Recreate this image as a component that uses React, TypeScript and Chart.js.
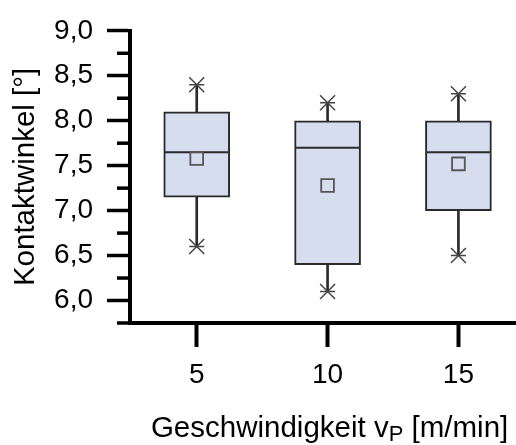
import React, { useEffect, useRef } from 'react';
import { Chart, registerables } from 'chart.js';

Chart.register(...registerables);

// ---- data ----
const speeds = [5, 10, 15];
const whiskerMin = [6.6, 6.1, 6.5];
const q1 = [7.15, 6.4, 7.0];
const median = [7.65, 7.7, 7.65];
const q3 = [8.1, 8.0, 8.0];
const whiskerMax = [8.4, 8.2, 8.3];
const mean = [7.58, 7.28, 7.52];

const xTickValues = [5, 10, 15];
const yTickValues = [5.75, 6.0, 6.25, 6.5, 6.75, 7.0, 7.25, 7.5, 7.75, 8.0, 8.25, 8.5, 8.75, 9.0];

const yTitle = 'Kontaktwinkel [°]';
const xTitleMain = 'Geschwindigkeit v';
const xTitleSub = 'P';
const xTitleTail = ' [m/min]';

const FONT = '"Liberation Sans", Arial, sans-serif';
const BOX_FILL = 'rgb(214,221,238)';
const LINE = '#2a2a2a';

const isMajor = (v: number) => Math.abs(v * 2 - Math.round(v * 2)) < 1e-6;

const minorTickPlugin = {
  id: 'minorTicks',
  afterDraw(chart: any) {
    const ys = chart.scales.y;
    const ctx = chart.ctx;
    const x = chart.chartArea.left;
    ctx.save();
    ctx.strokeStyle = '#000';
    ctx.lineWidth = 3.5;
    yTickValues.forEach((v) => {
      if (isMajor(v)) return;
      const y = ys.getPixelForValue(v);
      ctx.beginPath();
      ctx.moveTo(x - 13, y);
      ctx.lineTo(x, y);
      ctx.stroke();
    });
    ctx.restore();
  },
};

const xTitlePlugin = {
  id: 'xTitleSub',
  afterDraw(chart: any) {
    const xs = chart.scales.x;
    const ctx = chart.ctx;
    ctx.save();
    const big = `29.5px ${FONT}`;
    const small = `22px ${FONT}`;
    ctx.font = big;
    const w1 = ctx.measureText(xTitleMain).width;
    const w3 = ctx.measureText(xTitleTail).width;
    ctx.font = small;
    const w2 = ctx.measureText(xTitleSub).width;
    const total = w1 + w2 + w3;
    const cx = xs.getPixelForValue(10) + 2;
    const baseY = xs.bottom - 8;
    let x = cx - total / 2;
    ctx.fillStyle = '#000';
    ctx.textBaseline = 'alphabetic';
    ctx.textAlign = 'left';
    ctx.font = big;
    ctx.fillText(xTitleMain, x, baseY);
    x += w1;
    ctx.font = small;
    ctx.fillText(xTitleSub, x, baseY + 4);
    x += w2;
    ctx.font = big;
    ctx.fillText(xTitleTail, x, baseY);
    ctx.restore();
  },
};

export default function App() {
  const ref = useRef<HTMLCanvasElement | null>(null);

  useEffect(() => {
    if (!ref.current) return;
    const chart = new Chart(ref.current, {
      type: 'bar',
      data: {
        datasets: [
          {
            type: 'bar',
            label: 'whisker',
            data: speeds.map((s, i) => ({ x: s, y: [whiskerMin[i], whiskerMax[i]] })) as any,
            backgroundColor: LINE,
            borderWidth: 0,
            barThickness: 2,
            grouped: false,
            order: 5,
          } as any,
          {
            type: 'bar',
            label: 'box',
            data: speeds.map((s, i) => ({ x: s, y: [q1[i], q3[i]] })) as any,
            backgroundColor: BOX_FILL,
            borderColor: LINE,
            borderWidth: 2,
            borderSkipped: false,
            barThickness: 66,
            grouped: false,
            order: 4,
          } as any,
          {
            type: 'scatter',
            label: 'median',
            data: speeds.map((s, i) => ({ x: s, y: median[i] })),
            pointStyle: 'line',
            pointRadius: 32,
            borderColor: LINE,
            borderWidth: 2,
            order: 3,
          } as any,
          {
            type: 'scatter',
            label: 'mean',
            data: speeds.map((s, i) => ({ x: s, y: mean[i] })),
            pointStyle: 'rect',
            pointRadius: 9,
            backgroundColor: 'rgba(0,0,0,0)',
            borderColor: '#555',
            borderWidth: 1.8,
            order: 2,
          } as any,
          {
            type: 'scatter',
            label: 'extremeX',
            data: speeds.flatMap((s, i) => [
              { x: s, y: whiskerMin[i] },
              { x: s, y: whiskerMax[i] },
            ]),
            pointStyle: 'crossRot',
            pointRadius: 10.6,
            borderColor: '#444',
            borderWidth: 1.5,
            order: 1,
          } as any,
          {
            type: 'scatter',
            label: 'extremeLine',
            data: speeds.flatMap((s, i) => [
              { x: s, y: whiskerMin[i] },
              { x: s, y: whiskerMax[i] },
            ]),
            pointStyle: 'line',
            pointRadius: 7.5,
            borderColor: '#444',
            borderWidth: 1.5,
            order: 0,
          } as any,
        ],
      },
      options: {
        animation: false,
        responsive: false,
        devicePixelRatio: 1,
        events: [],
        layout: { autoPadding: false, padding: { top: 27, left: 0, right: 0, bottom: 0 } },
        plugins: {
          legend: { display: false },
          tooltip: { enabled: false },
        },
        scales: {
          x: {
            type: 'linear',
            min: 2.45,
            max: 17.2,
            offset: false,
            afterBuildTicks: (scale: any) => {
              scale.ticks = xTickValues.map((v) => ({ value: v }));
            },
            afterFit: (scale: any) => {
              scale.height = 122;
            },
            grid: {
              offset: false,
              drawOnChartArea: false,
              drawTicks: true,
              tickLength: 24,
              tickWidth: 4,
              tickColor: '#000',
            },
            border: { display: true, color: '#000', width: 4 },
            ticks: {
              padding: 11,
              color: '#000',
              font: { family: FONT, size: 28 },
              maxRotation: 0,
              autoSkip: false,
              callback: (v: any) => String(v),
            },
            title: { display: false },
          },
          y: {
            type: 'linear',
            min: 5.75,
            max: 9.0,
            afterBuildTicks: (scale: any) => {
              scale.ticks = yTickValues.map((v) => ({ value: v }));
            },
            afterFit: (scale: any) => {
              scale.width = 130;
            },
            grid: {
              drawOnChartArea: false,
              drawTicks: true,
              tickLength: 23,
              tickWidth: 3.5,
              tickColor: (ctx: any) => (ctx.tick && isMajor(ctx.tick.value) ? '#000' : 'rgba(0,0,0,0)'),
            },
            border: { display: true, color: '#000', width: 4 },
            ticks: {
              padding: 14,
              color: '#000',
              font: { family: FONT, size: 28 },
              autoSkip: false,
              callback: (v: any) => {
                const n = Number(v);
                return isMajor(n) ? n.toFixed(1).replace('.', ',') : '';
              },
            },
            title: {
              display: true,
              text: yTitle,
              color: '#000',
              font: { family: FONT, size: 29.5 },
              padding: { top: 8, bottom: 0 },
            },
          },
        },
      } as any,
      plugins: [minorTickPlugin, xTitlePlugin],
    });
    return () => chart.destroy();
  }, []);

  return (
    <div style={{ position: 'fixed', left: 0, top: 0, width: 516, height: 445, background: '#fff' }}>
      <canvas ref={ref} width={516} height={445} style={{ display: 'block' }} />
    </div>
  );
}
